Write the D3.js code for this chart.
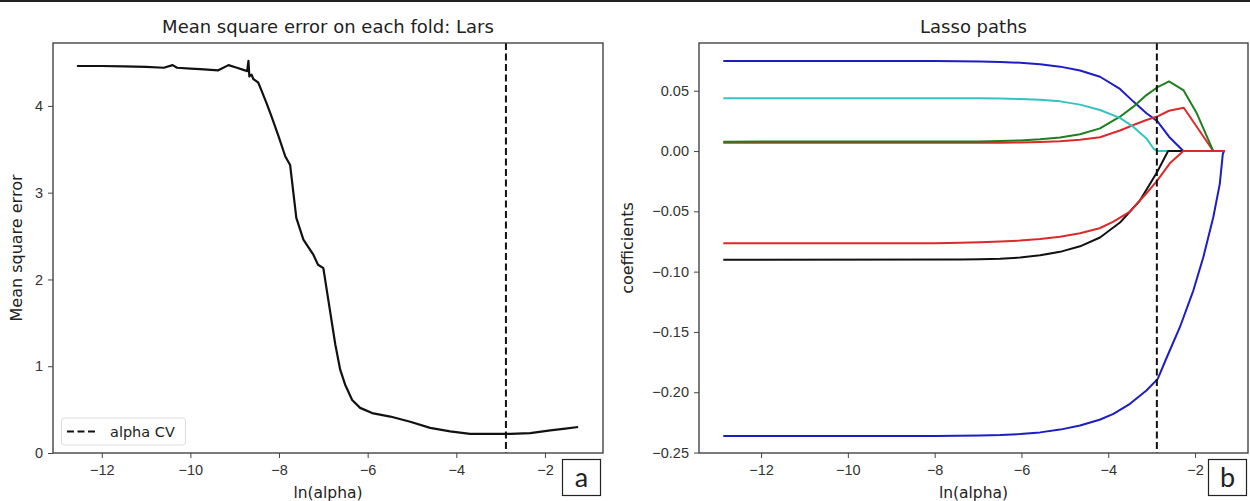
<!DOCTYPE html>
<html>
<head>
<meta charset="utf-8">
<script src="https://cdn.jsdelivr.net/npm/d3@7"></script>
<style>
	body { margin: 0; background: #fff; }
	svg { display: block; font-family: 'DejaVu Sans', sans-serif; }
	.tick text { fill: #333; font-size: 14.5px; }
	.tick line { stroke: #444; }
</style>
</head>
<body>
<div id="chart"></div>
<script>
// left panel: cross-validated mean square error
const mseAlpha = [-12.56, -12, -11.5, -11, -10.6, -10.4, -10.3, -10, -9.78, -9.37, -9.14, -8.95, -8.77, -8.72, -8.69, -8.67, -8.62, -8.58, -8.47, -8.39, -8.28, -8.17, -8.01, -7.86, -7.75, -7.61, -7.45, -7.23, -7.12, -7.0, -6.89, -6.73, -6.62, -6.51, -6.35, -6.17, -5.9, -5.49, -5.04, -4.59, -4.14, -3.69, -2.78, -2.33, -1.88, -1.54, -1.25]
const mseValues = [4.46, 4.46, 4.455, 4.45, 4.44, 4.47, 4.44, 4.43, 4.425, 4.41, 4.47, 4.44, 4.41, 4.40, 4.52, 4.34, 4.36, 4.31, 4.27, 4.17, 4.03, 3.88, 3.65, 3.42, 3.32, 2.71, 2.46, 2.29, 2.17, 2.13, 1.77, 1.25, 0.96, 0.79, 0.61, 0.52, 0.46, 0.42, 0.36, 0.29, 0.25, 0.22, 0.22, 0.23, 0.26, 0.28, 0.30]
const alphaCV = -2.88

// right panel: lasso coefficient paths
const blueTopAlpha = [-12.87, -8, -6.95, -6.49, -6.03, -5.57, -5.11, -4.65, -4.19, -3.73, -3.42, -3.12, -2.87, -2.6, -2.27, -1.31]
const blueTopCoef = [0.0746, 0.0746, 0.0743, 0.0739, 0.0732, 0.0720, 0.0700, 0.0668, 0.0616, 0.0515, 0.0410, 0.0313, 0.0248, 0.0119, 0, 0]
const redTopAlpha = [-12.87, -7, -6.49, -6.03, -5.57, -5.11, -4.65, -4.19, -3.73, -3.42, -3.12, -2.85, -2.6, -2.26, -1.58, -1.31]
const redTopCoef = [0.0068, 0.0068, 0.0069, 0.0071, 0.0075, 0.0081, 0.0094, 0.0114, 0.0170, 0.0216, 0.0257, 0.0290, 0.0334, 0.0359, 0, 0]
const greenAlpha = [-12.87, -8, -7, -6.49, -6.03, -5.57, -5.11, -4.65, -4.19, -3.73, -3.42, -3.12, -2.85, -2.6, -2.27, -1.96, -1.58, -1.31]
const greenCoef = [0.0078, 0.0079, 0.0080, 0.0083, 0.0088, 0.0097, 0.0112, 0.0140, 0.0188, 0.0285, 0.0368, 0.0464, 0.0533, 0.0577, 0.0506, 0.0313, 0, 0]
const cyanAlpha = [-12.87, -7, -6.49, -6.03, -5.57, -5.11, -4.65, -4.19, -3.73, -3.42, -3.12, -2.95, -2.87, -1.31]
const cyanCoef = [0.0437, 0.0437, 0.0435, 0.0432, 0.0425, 0.0412, 0.0385, 0.0340, 0.0275, 0.0200, 0.0105, 0.0017, 0, 0]
const blackAlpha = [-12.87, -7.41, -6.95, -6.49, -6.03, -5.57, -5.11, -4.65, -4.19, -3.73, -3.27, -2.88, -2.62, -1.31]
const blackCoef = [-0.0901, -0.0900, -0.0898, -0.0894, -0.0883, -0.0865, -0.0836, -0.0790, -0.0717, -0.0593, -0.0410, -0.0178, 0, 0]
const blueLowAlpha = [-12.87, -8, -6.95, -6.49, -6.03, -5.57, -5.11, -4.65, -4.2, -3.88, -3.5, -3.12, -2.86, -2.65, -2.35, -2.04, -1.81, -1.58, -1.43, -1.36, -1.33]
const blueLowCoef = [-0.2362, -0.2362, -0.2359, -0.2355, -0.2347, -0.2333, -0.2310, -0.2276, -0.2228, -0.2179, -0.2096, -0.1986, -0.1889, -0.1710, -0.1461, -0.1157, -0.0881, -0.0549, -0.0272, -0.0023, 0]
const redLowAlpha = [-12.87, -8, -7.41, -6.95, -6.49, -6.03, -5.57, -5.11, -4.65, -4.2, -3.88, -3.5, -3.12, -2.89, -2.58, -2.27, -1.31]
const redLowCoef = [-0.0765, -0.0764, -0.0761, -0.0757, -0.0751, -0.0742, -0.0729, -0.0710, -0.0682, -0.0640, -0.0586, -0.0503, -0.0350, -0.0254, -0.0102, 0, 0]

const alphaTicks = [-12, -10, -8, -6, -4, -2]
const mseTicks = [0, 1, 2, 3, 4]
const coefTicks = [0.05, 0, -0.05, -0.1, -0.15, -0.2, -0.25]

const paths = [
	{ alpha: blueTopAlpha, coef: blueTopCoef, color: '#1d1dc6' },
	{ alpha: redTopAlpha, coef: redTopCoef, color: '#dc2a2a' },
	{ alpha: greenAlpha, coef: greenCoef, color: '#1d7f1d' },
	{ alpha: cyanAlpha, coef: cyanCoef, color: '#33c3c3' },
	{ alpha: blackAlpha, coef: blackCoef, color: '#111' },
	{ alpha: blueLowAlpha, coef: blueLowCoef, color: '#1d1dc6' },
	{ alpha: redLowAlpha, coef: redLowCoef, color: '#dc2a2a' }
]

const chart = {
	width: 1250,
	height: 501,

	draw() {
		const svg = d3
			.select('#chart')
			.append('svg')
			.attr('width', this.width)
			.attr('height', this.height)

		svg
			.append('rect')
			.attr('width', this.width)
			.attr('height', 2)
			.attr('fill', '#222')

		this.msePanel(svg)
		this.lassoPanel(svg)
	},

	// shared frame, ticks and labels of one panel
	panel(svg, frame, x, y, xTicks, yTicks, yFormat, opts) {
		const g = svg.append('g')

		g.append('g')
			.attr('transform', `translate(0,${frame.bottom})`)
			.call(
				d3.axisBottom(x).tickValues(xTicks).tickSize(5).tickPadding(7).tickFormat(d3.format('d'))
			)
			.call(a => a.select('.domain').remove())

		g.append('g')
			.attr('transform', `translate(${frame.left},0)`)
			.call(d3.axisLeft(y).tickValues(yTicks).tickSize(5).tickPadding(5).tickFormat(yFormat))
			.call(a => a.select('.domain').remove())

		g.selectAll('.tick text').attr('font-family', null).attr('font-size', null)

		g.append('text')
			.attr('x', (frame.left + frame.right) / 2)
			.attr('y', 33)
			.attr('text-anchor', 'middle')
			.attr('font-size', 18)
			.attr('fill', '#222')
			.text(opts.title)

		g.append('text')
			.attr('x', (frame.left + frame.right) / 2)
			.attr('y', 498)
			.attr('text-anchor', 'middle')
			.attr('font-size', 15.5)
			.attr('fill', '#222')
			.text('ln(alpha)')

		g.append('text')
			.attr('transform', `translate(${opts.yLabelX},${(frame.top + frame.bottom) / 2}) rotate(-90)`)
			.attr('text-anchor', 'middle')
			.attr('font-size', 16)
			.attr('fill', '#222')
			.text(opts.yLabel)

		return g
	},

	frameRect(g, frame) {
		g.append('rect')
			.attr('x', frame.left)
			.attr('y', frame.top)
			.attr('width', frame.right - frame.left)
			.attr('height', frame.bottom - frame.top)
			.attr('fill', 'none')
			.attr('stroke', '#444')
			.attr('stroke-width', 1.4)
	},

	letterBox(g, box, letter) {
		g.append('rect')
			.attr('x', box.x)
			.attr('y', box.y)
			.attr('width', box.w)
			.attr('height', box.h)
			.attr('fill', '#fff')
			.attr('stroke', '#222')
			.attr('stroke-width', 1.2)

		g.append('text')
			.attr('x', box.x + box.w / 2)
			.attr('y', box.y + box.h / 2 + 9)
			.attr('text-anchor', 'middle')
			.attr('font-size', 27)
			.attr('font-family', 'Lato, sans-serif')
			.attr('fill', '#222')
			.text(letter)
	},

	msePanel(svg) {
		const frame = { left: 53, right: 603, top: 43, bottom: 453 }

		const x = d3.scaleLinear().domain([-13.1, -0.69]).range([frame.left, frame.right])
		const y = d3.scaleLinear().domain([0, 4.725]).range([frame.bottom, frame.top])

		const g = this.panel(svg, frame, x, y, alphaTicks, mseTicks, d3.format('d'), {
			title: 'Mean square error on each fold: Lars',
			yLabel: 'Mean square error',
			yLabelX: 22
		})

		const line = d3
			.line()
			.x((d, i) => x(mseAlpha[i]))
			.y(d => y(d))

		g.append('path')
			.datum(mseValues)
			.attr('d', line)
			.attr('fill', 'none')
			.attr('stroke', '#111')
			.attr('stroke-width', 2.2)
			.attr('stroke-linejoin', 'round')

		g.append('line')
			.attr('x1', x(alphaCV))
			.attr('x2', x(alphaCV))
			.attr('y1', frame.top)
			.attr('y2', frame.bottom)
			.attr('stroke', '#111')
			.attr('stroke-width', 2)
			.attr('stroke-dasharray', '7,3.5')

		// legend
		const legend = g.append('g')
		legend
			.append('rect')
			.attr('x', 61.5)
			.attr('y', 418)
			.attr('width', 124)
			.attr('height', 27)
			.attr('rx', 3)
			.attr('fill', '#fff')
			.attr('stroke', '#ddd')
		legend
			.append('line')
			.attr('x1', 67)
			.attr('x2', 97)
			.attr('y1', 431.5)
			.attr('y2', 431.5)
			.attr('stroke', '#111')
			.attr('stroke-width', 2)
			.attr('stroke-dasharray', '7,3.5')
		legend
			.append('text')
			.attr('x', 110)
			.attr('y', 436.5)
			.attr('font-size', 14.5)
			.attr('fill', '#222')
			.text('alpha CV')

		this.frameRect(g, frame)
		this.letterBox(g, { x: 562.5, y: 459.5, w: 38, h: 36 }, 'a')
	},

	lassoPanel(svg) {
		const frame = { left: 699, right: 1248, top: 43, bottom: 453 }

		const x = d3.scaleLinear().domain([-13.43, -0.78]).range([frame.left, frame.right])
		const y = d3.scaleLinear().domain([-0.2504, 0.0896]).range([frame.bottom, frame.top])

		const g = this.panel(svg, frame, x, y, alphaTicks, coefTicks, d3.format('.2f'), {
			title: 'Lasso paths',
			yLabel: 'coefficients',
			yLabelX: 633
		})

		const line = d3
			.line()
			.x(d => x(d[0]))
			.y(d => y(d[1]))

		g.selectAll('.coef')
			.data(paths)
			.enter()
			.append('path')
			.classed('coef', true)
			.attr('d', p => line(p.alpha.map((a, i) => [a, p.coef[i]])))
			.attr('fill', 'none')
			.attr('stroke', p => p.color)
			.attr('stroke-width', 2)
			.attr('stroke-linejoin', 'round')

		g.append('line')
			.attr('x1', x(alphaCV))
			.attr('x2', x(alphaCV))
			.attr('y1', frame.top)
			.attr('y2', frame.bottom)
			.attr('stroke', '#111')
			.attr('stroke-width', 2)
			.attr('stroke-dasharray', '7,3.5')

		this.frameRect(g, frame)
		this.letterBox(g, { x: 1208.5, y: 459.5, w: 38, h: 36 }, 'b')
	}
}

chart.draw()
</script>
</body>
</html>
